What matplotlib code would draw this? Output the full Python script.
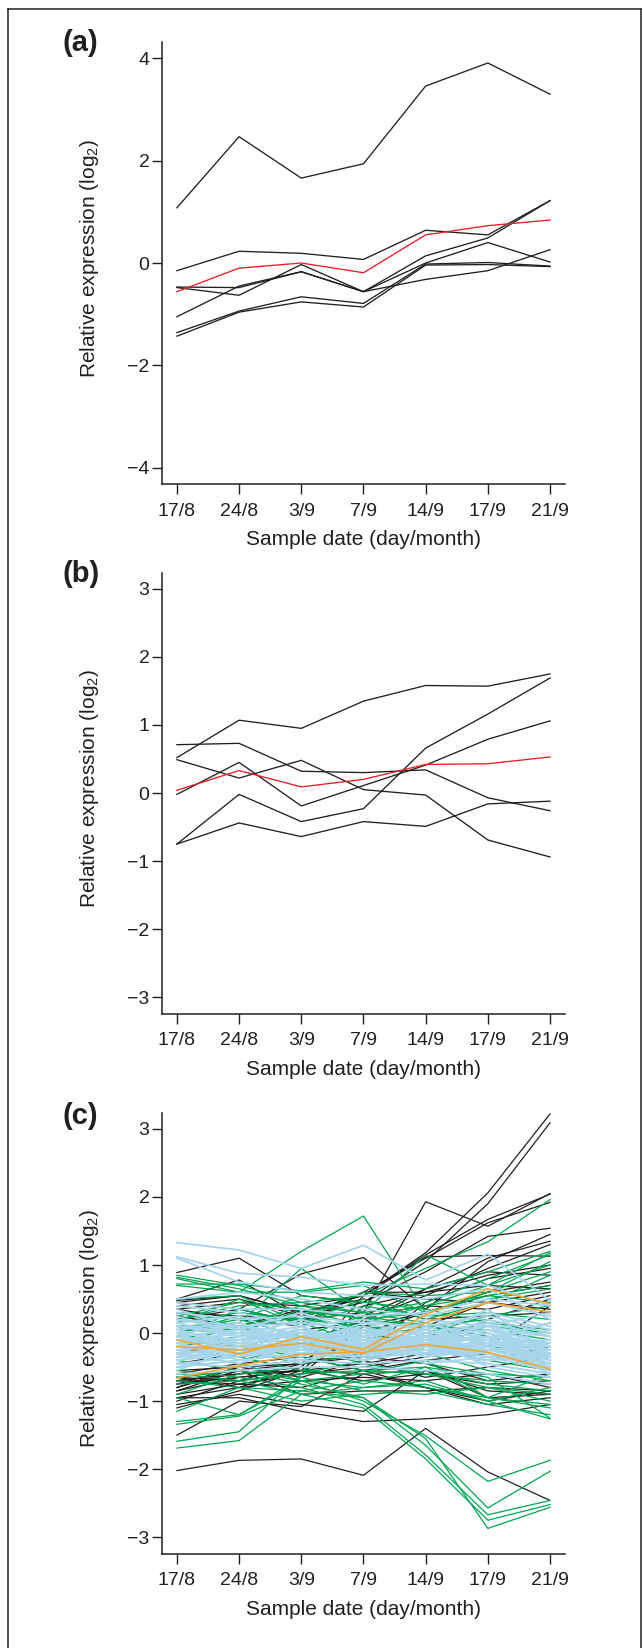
import matplotlib
matplotlib.use("Agg")
import matplotlib.pyplot as plt
from matplotlib.lines import Line2D

plt.rcParams["font.family"] = ["Liberation Sans", "DejaVu Sans"]
plt.rcParams["mathtext.fontset"] = "custom"
plt.rcParams["mathtext.rm"] = "Liberation Sans"
plt.rcParams["axes.unicode_minus"] = True

INK = "#231f20"
RED = "#ed1c24"
GREEN = "#00a651"
BLUE = "#a6d5ec"
ORANGE = "#f7a428"

DATES = ["17/8", "24/8", "3/9", "7/9", "14/9", "17/9", "21/9"]
X = [1, 2, 3, 4, 5, 6, 7]

# panel (a)
A_BLACK = [
    [1.08, 2.47, 1.66, 1.94, 3.46, 3.91, 3.30],
    [-0.15, 0.23, 0.19, 0.07, 0.64, 0.55, 1.22],
    [-1.05, -0.45, -0.17, -0.56, 0.14, 0.49, 1.22],
    [-0.47, -0.48, -0.17, -0.56, -0.32, -0.15, 0.26],
    [-0.48, -0.63, -0.03, -0.56, 0.00, 0.40, 0.02],
    [-1.36, -0.94, -0.66, -0.79, -0.02, 0.01, -0.06],
    [-1.43, -0.96, -0.76, -0.86, -0.04, -0.03, -0.07],
]
A_RED = [-0.56, -0.10, 0.00, -0.19, 0.55, 0.73, 0.84]

# panel (b)
B_BLACK = [
    [0.52, 1.07, 0.95, 1.35, 1.58, 1.57, 1.75],
    [0.71, 0.73, 0.32, 0.30, 0.34, -0.07, -0.26],
    [0.49, 0.22, 0.48, 0.05, -0.03, -0.69, -0.94],
    [-0.02, 0.45, -0.19, 0.11, 0.41, 0.79, 1.06],
    [-0.75, -0.02, -0.42, -0.23, 0.66, 1.16, 1.69],
    [-0.75, -0.44, -0.64, -0.42, -0.49, -0.16, -0.12],
]
B_RED = [0.04, 0.33, 0.09, 0.20, 0.42, 0.43, 0.53]

# panel (c)
C_BLACK = [
    [0.48, 0.55, 0.30, 0.55, 1.18, 2.06, 3.22],
    [0.40, 0.50, 0.25, 0.45, 1.05, 1.90, 3.09],
    [0.30, 0.25, 0.20, 0.30, 1.93, 1.57, 2.05],
    [0.35, 0.45, 0.40, 0.55, 1.15, 1.67, 2.04],
    [0.20, 0.35, 0.15, 0.60, 1.10, 1.62, 1.92],
    [0.89, 1.10, 0.55, 0.45, 0.90, 1.42, 1.54],
    [0.45, 0.35, 0.87, 1.11, 0.35, 1.05, 1.45],
    [-0.70, -0.60, -0.50, 0.55, 1.12, 1.14, 1.13],
    [-0.85, -0.55, -0.45, 0.25, 0.65, 1.10, 1.35],
    [-0.75, -0.65, -0.55, 0.20, 0.55, 0.95, 1.30],
    [-0.95, -0.80, -0.50, 0.40, 0.60, 0.85, 1.00],
    [-0.65, -0.70, -0.45, -0.30, 0.45, 0.80, 0.95],
    [-0.90, -0.75, -0.60, 0.10, 0.30, 0.60, 0.75],
    [0.50, 0.78, 0.25, 0.60, 0.60, 0.70, 0.65],
    [-2.02, -1.87, -1.85, -2.09, -1.40, -2.04, -2.46],
    [-1.50, -1.00, -1.08, -0.60, -0.80, -1.00, -0.85],
    [-0.95, -0.95, -1.15, -1.30, -1.26, -1.20, -1.05],
    [-1.05, -0.90, -1.05, -1.15, -0.55, -0.95, -0.90],
    [-0.80, -0.55, -0.90, -0.85, -0.85, -0.80, -0.85],
    [-0.70, -0.60, -0.55, -0.60, -0.55, -0.85, -0.90],
    [-0.60, -0.45, -0.35, -0.55, -0.80, -1.05, -0.95],
    [0.35, 0.20, 0.10, 0.60, 0.50, 0.45, 0.35],
    [0.45, 0.55, 0.30, 0.50, 0.20, 0.25, 0.30],
    [-0.30, -0.10, 0.05, 0.15, 0.65, 0.90, 0.85],
    [-0.20, -0.35, -0.20, 0.00, 0.30, 0.55, 0.70],
    [-1.10, -0.85, -0.55, -0.45, -0.30, -0.10, 0.15],
    [-0.55, -0.50, -0.40, -0.35, 0.10, 0.45, 0.60],
    [-0.80, -0.50, -0.45, -0.35, -0.45, -0.70, -0.60],
    [0.10, 0.00, -0.20, 0.05, -0.25, -0.40, -0.20],
    [-0.45, -0.30, -0.10, -0.40, -0.65, -0.50, -0.35],
    [-0.70, -0.75, -0.80, -0.55, -0.40, -0.30, -0.50],
    [-0.85, -0.65, -0.55, -0.70, -0.60, -0.75, -0.70],
    [-1.00, -0.70, -0.60, -0.50, -0.35, -0.20, 0.40],
    [-0.75, -0.50, -0.65, -0.40, -0.20, 0.20, 0.50],
    [-0.65, -0.80, -0.70, -0.65, -0.70, -0.60, -0.80],
    [0.25, 0.10, 0.35, 0.25, 0.40, 0.35, 0.55],
]
C_GREEN = [
    [0.80, 0.60, 1.20, 1.72, 0.30, 0.55, 0.45],
    [0.10, 0.15, 0.95, 0.30, 0.45, 0.80, 1.15],
    [0.85, 0.70, 0.45, 0.55, 0.95, 1.34, 1.96],
    [0.82, 0.65, 0.40, 0.30, 1.15, 0.70, 1.18],
    [0.72, 0.72, 0.62, 0.75, 0.65, 0.90, 1.20],
    [0.70, 0.60, 0.60, 0.70, 0.30, 0.60, 1.05],
    [0.50, 0.55, 0.15, 0.50, 0.20, 0.45, 0.85],
    [-0.30, -0.45, -0.70, -1.00, -1.51, -2.18, -1.87],
    [-0.40, -0.55, -0.75, -0.95, -1.65, -2.57, -2.03],
    [-0.55, -0.65, -0.80, -1.05, -1.79, -2.67, -2.46],
    [-0.60, -0.70, -0.90, -1.10, -1.85, -2.75, -2.52],
    [-0.70, -0.80, -0.85, -0.95, -1.55, -2.87, -2.56],
    [-1.30, -1.20, -0.70, -0.60, -0.55, -0.75, -0.85],
    [-1.34, -1.22, -0.85, -0.70, -0.80, -0.95, -1.10],
    [-1.59, -1.45, -0.60, -0.55, -0.60, -0.70, -0.75],
    [-1.69, -1.58, -0.90, -0.80, -0.70, -1.00, -1.26],
    [-1.15, -0.80, -1.00, -0.90, -0.85, -1.05, -1.20],
    [-0.95, -1.20, -0.65, -0.85, -0.90, -0.80, -1.00],
    [-0.90, -0.60, -0.50, -0.75, -0.50, -0.95, -0.60],
    [0.25, 0.45, 0.35, 0.20, 0.10, 0.05, -0.10],
    [0.15, 0.50, 0.10, 0.40, 0.25, 0.30, 0.20],
    [0.05, 0.00, 0.35, 0.10, -0.15, -0.30, -0.45],
    [-0.10, -0.20, 0.00, -0.10, 0.10, -0.05, -0.25],
    [0.30, 0.20, 0.55, 0.45, 0.35, 0.15, 0.05],
    [-0.20, -0.05, 0.20, -0.05, -0.30, -0.55, -0.70],
    [-0.50, -0.40, -0.20, -0.45, -0.60, -0.80, -0.90],
    [0.00, 0.25, -0.10, 0.15, 0.40, 0.55, 0.70],
    [-0.35, -0.25, -0.45, -0.30, 0.00, 0.25, 0.40],
    [0.40, 0.30, 0.20, 0.60, 0.55, 0.60, 0.90],
    [-0.75, -0.70, -0.60, -0.40, -0.20, -0.40, -0.55],
    [0.20, 0.10, -0.25, 0.05, 0.15, 0.00, -0.35],
    [-0.05, 0.35, 0.15, -0.15, -0.45, -0.60, -0.65],
    [0.10, 0.05, 0.25, 0.05, -0.10, 0.10, 0.00],
    [0.15, 0.30, 0.20, 0.10, 0.00, -0.15, -0.20],
    [0.05, 0.20, -0.05, 0.25, 0.10, 0.20, -0.05],
    [0.20, 0.40, 0.45, 0.30, 0.15, -0.20, -0.30],
    [-0.25, -0.35, -0.55, -0.60, -0.40, -0.95, -1.05],
    [-0.65, -0.55, -0.70, -0.80, -0.75, -1.00, -0.80],
    [0.30, 0.10, 0.30, 0.25, 0.40, 0.70, 1.00],
    [-0.15, 0.10, 0.40, 0.20, 0.30, 0.50, 0.65],
    [0.00, -0.20, -0.35, -0.55, -0.50, -0.65, -1.25],
]
C_BLUE = [
    [1.33, 1.22, 0.95, 1.29, 0.78, 1.16, 0.48],
    [1.12, 0.88, 0.82, 0.70, 0.72, 0.70, 0.40],
    [1.10, 0.75, 0.60, 0.55, 0.50, 0.65, 0.20],
    [0.50, 0.60, 0.50, 0.35, 0.25, 0.45, 0.25],
    [0.20, 0.10, 0.15, 0.05, 0.00, 0.15, -0.05],
    [0.10, -0.05, 0.00, -0.10, -0.05, 0.05, -0.15],
    [0.00, -0.10, -0.05, -0.15, -0.10, 0.00, -0.20],
    [-0.10, -0.15, -0.10, -0.20, -0.15, -0.05, -0.25],
    [-0.20, -0.20, -0.15, -0.25, -0.10, -0.10, -0.30],
    [-0.30, -0.25, -0.20, -0.20, -0.20, -0.15, -0.35],
    [-0.40, -0.30, -0.25, -0.30, -0.25, -0.20, -0.40],
    [-0.50, -0.40, -0.30, -0.35, -0.30, -0.30, -0.50],
    [0.30, 0.20, 0.25, 0.15, 0.10, 0.25, 0.05],
    [0.40, 0.30, 0.10, 0.20, 0.05, 0.30, 0.10],
    [-0.05, 0.05, -0.20, 0.00, -0.25, -0.15, -0.10],
    [-0.15, 0.00, -0.30, -0.05, -0.30, -0.25, -0.45],
    [0.05, -0.15, 0.05, -0.25, 0.05, -0.30, -0.55],
    [-0.25, -0.35, -0.05, -0.30, 0.00, 0.10, -0.20],
    [-0.35, -0.10, -0.35, -0.10, -0.35, 0.05, -0.05],
    [0.15, 0.25, -0.10, 0.10, -0.15, 0.20, 0.00],
    [-0.45, -0.50, -0.40, -0.45, -0.40, -0.45, -0.60],
    [0.25, -0.05, 0.20, -0.05, 0.15, -0.10, 0.15],
    [-0.55, -0.20, -0.45, -0.15, -0.45, -0.35, -0.30],
    [0.05, 0.15, -0.15, 0.15, -0.05, 0.35, -0.35],
    [-0.30, -0.45, -0.15, -0.40, -0.05, -0.50, -0.65],
    [0.35, 0.05, 0.30, 0.00, 0.20, 0.10, 0.30],
    [-0.10, -0.30, 0.10, -0.35, 0.10, -0.20, 0.05],
    [-0.20, 0.05, -0.25, 0.05, -0.20, 0.15, -0.40],
    [0.45, 0.35, 0.35, 0.25, 0.30, 0.50, 0.40],
    [-0.60, -0.55, -0.50, -0.50, -0.55, -0.60, -0.75],
    [-0.05, -0.25, -0.10, -0.20, -0.30, -0.20, -0.45],
    [0.10, 0.00, -0.20, -0.15, -0.10, -0.25, -0.35],
    [-0.15, -0.10, 0.05, -0.10, -0.20, -0.30, -0.50],
    [-0.25, -0.15, -0.25, -0.15, -0.15, -0.05, -0.15],
    [0.00, 0.10, 0.00, -0.05, -0.20, 0.00, -0.30],
    [-0.35, -0.30, -0.10, -0.25, -0.10, -0.30, -0.45],
    [-0.10, 0.00, -0.05, 0.05, -0.10, 0.10, -0.05],
    [0.15, -0.05, 0.10, -0.20, -0.05, -0.10, -0.40],
    [-0.40, -0.20, -0.20, -0.35, -0.20, -0.35, -0.55],
    [-0.20, -0.30, -0.35, -0.10, -0.25, -0.40, -0.25],
    [0.05, -0.20, -0.15, -0.05, 0.05, -0.15, -0.20],
    [-0.30, -0.05, -0.05, -0.30, -0.30, -0.10, -0.35],
    [-0.45, -0.35, -0.20, -0.10, -0.35, -0.20, -0.10],
    [0.20, 0.05, -0.05, 0.00, -0.10, 0.05, -0.25],
    [-0.15, -0.40, -0.30, -0.25, -0.15, -0.45, -0.60],
    [-0.05, -0.15, -0.30, -0.40, -0.25, -0.10, -0.50],
    [-0.25, -0.10, 0.00, -0.15, -0.35, -0.25, -0.15],
    [0.00, -0.30, -0.20, -0.10, -0.20, -0.05, -0.45],
    [-0.35, -0.25, -0.40, -0.20, -0.05, -0.25, -0.30],
    [0.10, 0.10, -0.10, -0.25, -0.30, -0.15, -0.20],
    [-0.50, -0.30, -0.15, -0.30, -0.15, -0.40, -0.35],
    [-0.20, -0.20, 0.05, -0.30, -0.10, -0.20, -0.60],
]
C_ORANGE = [
    [-0.10, -0.31, -0.05, -0.24, 0.27, 0.65, 0.43],
    [-0.66, -0.48, -0.31, -0.28, -0.17, -0.28, -0.53],
    [-0.20, -0.25, -0.15, -0.30, 0.15, 0.45, 0.31],
]


def setup(ax, lim, ticks):
    ax.set_xlim(0.76, 7.24)
    ax.set_ylim(-lim, lim)
    ax.set_xticks(X)
    ax.set_xticklabels(DATES)
    ax.set_yticks(ticks)
    ax.set_yticklabels([str(t).replace("-", "\u2212") for t in ticks])
    for s in ("top", "right"):
        ax.spines[s].set_visible(False)
    for s in ("left", "bottom"):
        ax.spines[s].set_color(INK)
        ax.spines[s].set_linewidth(1.1)
    ax.tick_params(direction="out", length=7, width=1.0, color=INK,
                   labelcolor=INK, labelsize=14)
    ax.tick_params(axis="y", pad=2)
    ax.tick_params(axis="x", pad=6.5)
    ax.set_xlabel("Sample date (day/month)", fontsize=15, color=INK)
    ax.set_ylabel("Relative expression (log$_2$)", fontsize=15, color=INK)
    ax.xaxis.set_label_coords(0.5, -0.105)
    ax.yaxis.set_label_coords(-0.151, 0.51)


fig = plt.figure(figsize=(6.42, 16.48), dpi=100)
ax_a = fig.add_axes([0.2523, 0.7063, 0.6277, 0.2682])
ax_b = fig.add_axes([0.2523, 0.3850, 0.6277, 0.2676])
ax_c = fig.add_axes([0.2523, 0.0573, 0.6277, 0.2676])

for ys in A_BLACK:
    ax_a.plot(X, ys, color=INK, lw=0.95)
ax_a.plot(X, A_RED, color=RED, lw=0.95)
setup(ax_a, 4.32, [-4, -2, 0, 2, 4])

for ys in B_BLACK:
    ax_b.plot(X, ys, color=INK, lw=0.95)
ax_b.plot(X, B_RED, color=RED, lw=0.95)
setup(ax_b, 3.24, [-3, -2, -1, 0, 1, 2, 3])

for ys in C_BLACK:
    ax_c.plot(X, ys, color=INK, lw=0.9)
for ys in C_GREEN:
    ax_c.plot(X, ys, color=GREEN, lw=0.9)
for ys in C_BLUE:
    ax_c.plot(X, ys, color=BLUE, lw=1.3)
for ys in C_ORANGE:
    ax_c.plot(X, ys, color=ORANGE, lw=1.1)
setup(ax_c, 3.24, [-3, -2, -1, 0, 1, 2, 3])

for lab, y in (("(a)", 0.974), ("(b)", 0.652), ("(c)", 0.3228)):
    fig.text(0.097, y, lab, fontsize=21, fontweight="bold", color=INK,
             ha="left", va="center")

# frame round the figure (open at the bottom)
for xs, ys in (([8 / 642, 8 / 642], [0, 1 - 9 / 1648]),
               ([8 / 642, 640.5 / 642], [1 - 9 / 1648, 1 - 9 / 1648]),
               ([640.5 / 642, 640.5 / 642], [0, 1 - 9 / 1648])):
    fig.add_artist(Line2D(xs, ys, color=INK, lw=1.1, transform=fig.transFigure))

fig.savefig("out.png", dpi=100)
